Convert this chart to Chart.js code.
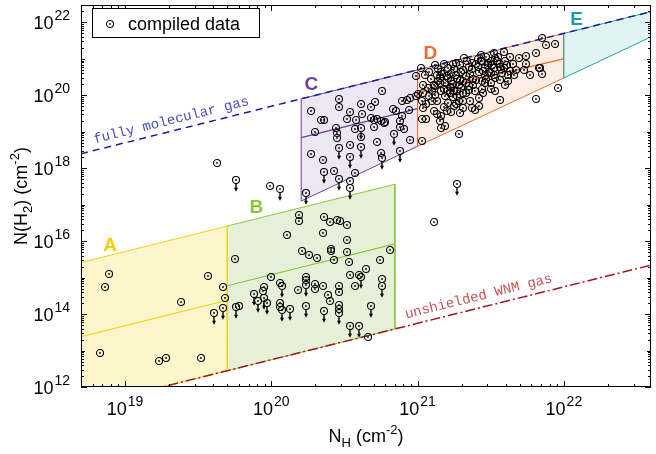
<!DOCTYPE html>
<html><head><meta charset="utf-8">
<script src="https://cdn.jsdelivr.net/npm/chart.js@4.4.1/dist/chart.umd.min.js"></script>
<style>html,body{margin:0;padding:0;background:#fff;overflow:hidden}canvas{display:block}</style>
</head><body>
<canvas id="c" width="656" height="454"></canvas>
<script>
// ---- data (log10 values) ----
const detLogNH = [18.83,18.86,18.89,19.23,19.28,19.52,19.38,19.57,19.67,19.68,19.63,19.99,19.75,19.78,19.94,19.95,20.00,20.06,20.06,20.06,20.18,20.11,20.19,20.19,20.21,20.26,20.31,20.24,20.24,20.30,20.35,20.35,20.36,20.40,20.45,20.47,20.52,20.52,20.41,20.41,20.43,20.52,20.53,20.81,20.74,20.65,20.54,20.60,20.57,20.76,20.30,20.46,20.46,20.39,20.40,20.46,20.46,20.66,21.11,
20.27,20.34,20.36,20.30,20.27,20.35,20.43,20.46,20.46,20.61,20.68,20.54,20.52,20.62,20.76,20.68,20.71,20.72,20.75,20.78,20.70,20.83,20.85,20.89,20.93,20.95,20.99,20.89,20.88,20.94,20.44,20.45,20.45,20.57,20.61,20.70,20.77,20.88,20.95,20.75,20.57,20.54,20.72,20.54,20.91,20.58,
21.02,21.12,21.24,21.34,21.43,21.52,21.59,21.63,21.69,21.74,21.81,21.85,21.88,21.94,21.84,21.85,21.67,21.62,21.56,21.62,21.50,21.44,21.60,21.56,21.81,21.96,21.40,21.38,21.35,21.31,21.42,21.36,21.31,21.31,21.29,21.23,21.18,21.16,21.15,21.16,21.21,21.26,21.10,21.06,21.04,21.03,21.04,21.00,21.04,21.07,21.11,21.14,21.10,21.03,21.06,21.03,21.28,21.12,20.99,21.77,21.83,21.73,21.32,21.25,21.37,21.39,21.19,
21.16,21.20,21.23,21.27,21.19,21.22,21.25,21.28,21.30,21.33,21.16,21.19,21.24,21.27,21.31,21.13,21.09,21.21,21.29,21.37,21.40,21.44,21.47,21.50,21.53,21.56,21.46,21.49,21.52,21.57,21.42,21.46,21.52,21.55,21.60,21.65,21.33,21.39,21.46,21.50,21.08,21.11,21.20,21.05,21.74,21.42,21.13,
21.18,21.25,21.35,21.15,21.23,21.30,21.20,21.13,21.28,21.45,21.53,21.48,21.59,21.66,21.08,
21.14,21.17,21.21,21.24,21.26,21.29,21.31,21.18,21.22,21.27,21.15,21.12,21.33,21.36,21.38,21.26,21.23,21.35,
21.41,21.43,21.45,21.48,21.51,21.54,21.56,21.58,21.50,21.47,21.53,21.44,21.61,21.63,21.41,21.37];
const detLogNH2 = [12.94,14.74,15.11,12.70,12.80,12.80,14.34,15.04,14.74,14.45,18.14,17.52,15.51,14.22,14.63,14.73,15.03,14.85,14.31,14.20,14.67,16.18,16.72,16.56,15.74,15.61,15.54,15.03,14.94,14.82,14.77,16.23,16.65,16.52,16.58,16.54,16.43,16.04,15.79,15.72,15.49,15.69,15.44,15.77,15.47,15.24,15.08,15.08,14.77,14.97,14.68,14.78,14.61,14.53,14.35,14.24,14.15,13.38,16.52,
19.56,19.31,19.31,18.99,18.38,18.23,17.92,19.91,19.69,19.77,19.68,19.54,19.34,19.50,20.13,19.37,19.82,19.34,19.30,19.26,19.32,19.63,19.56,19.84,19.88,19.93,19.99,19.43,19.29,19.61,19.09,18.98,18.84,19.08,18.85,19.13,19.23,19.13,18.77,18.42,17.88,17.65,18.71,18.65,19.07,19.31,
20.74,20.84,20.85,20.95,21.11,21.16,21.18,21.06,21.02,20.87,21.17,21.57,21.38,21.42,20.76,20.58,20.70,20.55,20.41,20.40,20.16,20.16,20.29,19.86,19.89,20.20,20.43,20.29,20.25,20.06,19.93,19.84,19.84,19.64,19.52,19.54,19.67,19.43,19.29,19.11,19.79,19.75,19.84,19.75,19.64,19.84,20.29,20.04,20.06,20.20,20.29,20.38,20.11,19.34,19.34,18.76,18.94,20.02,20.52,20.56,20.74,20.70,21.01,19.70,19.65,19.59,19.15,
20.65,20.52,20.60,20.44,20.33,20.22,20.11,20.27,20.65,20.52,20.11,19.97,19.95,19.97,20.38,20.55,20.44,20.76,20.82,20.71,20.87,20.93,21.04,20.93,21.01,20.87,20.76,20.65,20.74,20.71,20.63,20.52,20.55,21.04,20.93,20.85,20.05,20.11,20.33,20.33,19.97,19.56,19.56,20.55,21.08,19.70,19.50,
20.87,20.71,20.79,20.33,20.38,20.19,20.11,19.84,19.84,20.05,20.11,20.82,20.76,20.55,20.65,
20.72,20.58,20.47,20.30,20.55,20.42,20.70,20.18,20.05,20.12,20.47,20.25,20.35,20.58,20.45,20.90,20.20,20.15,
20.78,20.95,20.68,20.90,20.83,20.95,20.78,20.62,20.60,20.45,20.48,20.40,20.82,20.68,21.00,20.88];
// upper limits (drawn with a downward arrow)
const ulLogNH  = [19.61,19.67,19.76,20.06,19.76,19.88,19.91,19.95,19.97,20.07,20.07,20.13,20.24,20.24,20.36,20.61,20.76,20.46,20.68,20.54,20.60,21.27,20.24,20.36,20.46,20.46,20.61,20.61,20.84,20.54,20.76,20.88,20.54];
const ulLogNH2 = [14.02,14.17,17.67,17.42,14.20,14.56,14.36,14.45,14.31,14.76,14.11,14.15,14.79,14.23,14.09,15.01,14.78,14.02,14.22,13.67,13.67,17.56,17.31,17.90,17.70,18.55,19.11,18.59,18.95,18.32,18.28,18.46,17.47];

// reference lines (endpoints at the axis limits)
const fullyMolNH  = [5e18, 3.94e22];
const fullyMolNH2 = [2.5e18, 1.97e22];
const wnmNH  = [5e18, 3.94e22];
const wnmNH2 = [2.8e11, 2.2e15];

// regions (closed polygons) and their middle lines
const regA_NH  = [5e18, 5e19, 5e19, 5e18, 5e18];
const regA_NH2 = [2.6e15, 2.6e16, 2.8e12, 2.8e11, 2.6e15];
const midA_NH  = [5e18, 5e19];
const midA_NH2 = [2.4e13, 2.4e14];
const regB_NH  = [5e19, 7e20, 7e20, 5e19, 5e19];
const regB_NH2 = [2.6e16, 3.64e17, 3.92e13, 2.8e12, 2.6e16];
const midB_NH  = [5e19, 7e20];
const midB_NH2 = [6e14, 8.4e15];
const regC_NH  = [1.6e20, 1e21, 1e21, 1.6e20, 1.6e20];
const regC_NH2 = [8e19, 5e20, 4e18, 1.26e17, 8e19];
const midC_NH  = [1.6e20, 1e21];
const midC_NH2 = [6.9e18, 4.3e19];
const regD_NH  = [1e21, 1e22, 1e22, 1e21, 1e21];
const regD_NH2 = [5e20, 5e21, 3.0e20, 4e18, 5e20];
const midD_NH  = [1e21, 1e22];
const midD_NH2 = [1.18e20, 1e21];
const regE_NH  = [1e22, 4e22, 4e22, 1e22, 1e22];
const regE_NH2 = [5e21, 2e22, 4.1e21, 3.0e20, 5e21];

const regionLetters = ['A','B','C','D','E'];
const letterNH  = [7.9e18, 7.9e19, 1.88e20, 1.22e21, 1.22e22];
const letterNH2 = [7.5e15, 8e16, 1.93e20, 1.41e21, 1.15e22];

const xTickExps = [19, 20, 21, 22];
const yTickExps = [12, 14, 16, 18, 20, 22];

// ---- styles ----
const SANS = '"Liberation Sans", Arial, Helvetica, sans-serif';
const MONO = '"Liberation Mono", "DejaVu Sans Mono", monospace';
const colA = {line:'#f7d117', fill:'#fdf5cb', text:'#ffcc00'};
const colB = {line:'#8cc63f', fill:'#e4f1d8', text:'#8cc63f'};
const colC = {line:'#6d3f9e', fill:'#ece7f2', text:'#6b3fa0'};
const colD = {line:'#f26b2b', fill:'#fdeee5', text:'#f26b2b'};
const colE = {line:'#22a2a2', fill:'#e2f3f3', text:'#1a9e9e'};
const letterColors = [colA.text, colB.text, colC.text, colD.text, colE.text];

function makeMarker(arrow){
  const r = 3.5, W = 12, H = arrow ? 30 : 12;
  const c = document.createElement('canvas'); c.width = W; c.height = H;
  const g = c.getContext('2d');
  const cx = W/2, cy = H/2;
  g.strokeStyle = '#000'; g.lineWidth = 1.1;
  g.beginPath(); g.arc(cx, cy, r, 0, 2*Math.PI); g.stroke();
  g.fillStyle = '#000';
  g.beginPath(); g.arc(cx, cy, 0.9, 0, 2*Math.PI); g.fill();
  if (arrow) {
    g.lineWidth = 1.4;
    g.beginPath(); g.moveTo(cx, cy + r); g.lineTo(cx, cy + 8.5); g.stroke();
    g.beginPath(); g.moveTo(cx - 2, cy + 7.8); g.lineTo(cx + 2, cy + 7.8); g.lineTo(cx, cy + 11.8); g.closePath(); g.fill();
  }
  return c;
}
const markDet = makeMarker(false);
const markUL = makeMarker(true);

const pts = (xs, ys) => xs.map((v, i) => ({x: v, y: ys[i]}));
const logPts = (xs, ys) => xs.map((v, i) => ({x: Math.pow(10, v), y: Math.pow(10, ys[i])}));

function region(xs, ys, col, order){
  return {data: pts(xs, ys), showLine: true, fill: 'shape', backgroundColor: col.fill,
    borderColor: col.line, borderWidth: 1, pointRadius: 0, order: order};
}
function seg(xs, ys, color, width, dash, order){
  return {data: pts(xs, ys), showLine: true, fill: false, borderColor: color, borderWidth: width,
    borderDash: dash, pointRadius: 0, order: order};
}

const datasets = [
  {data: logPts(detLogNH, detLogNH2), pointStyle: markDet, pointRadius: 4, showLine: false, order: 0},
  {data: logPts(ulLogNH, ulLogNH2), pointStyle: markUL, pointRadius: 4, showLine: false, order: 1},
  seg(fullyMolNH, fullyMolNH2, '#1c1ca0', 1.5, [7,5], 2),
  seg(wnmNH, wnmNH2, '#a3141c', 1.5, [10,3,2,3], 2),
  seg(midA_NH, midA_NH2, colA.line, 1.2, [], 3),
  seg(midB_NH, midB_NH2, colB.line, 1.2, [], 3),
  seg(midC_NH, midC_NH2, colC.line, 1.2, [], 3),
  seg(midD_NH, midD_NH2, colD.line, 1.2, [], 3),
  region(regE_NH, regE_NH2, colE, 4),
  region(regD_NH, regD_NH2, colD, 5),
  region(regC_NH, regC_NH2, colC, 6),
  region(regA_NH, regA_NH2, colA, 7),
  region(regB_NH, regB_NH2, colB, 8)
];

function supText(ctx, base, exp, x, baseline, align, bigSize, smallSize){
  ctx.font = bigSize + 'px ' + SANS;
  const wb = ctx.measureText(base).width;
  ctx.font = smallSize + 'px ' + SANS;
  const we = ctx.measureText(exp).width;
  const total = wb + we + 1;
  const x0 = align === 'center' ? x - total/2 : x - total;
  ctx.textAlign = 'left'; ctx.textBaseline = 'alphabetic';
  ctx.font = bigSize + 'px ' + SANS; ctx.fillText(base, x0, baseline);
  ctx.font = smallSize + 'px ' + SANS; ctx.fillText(exp, x0 + wb + 1, baseline - 9);
}
// draws a run of [text, mode] pieces; mode: 0 normal, 1 subscript, 2 superscript
function richText(ctx, parts, x, y, centered){
  const widths = parts.map(([t, m]) => { ctx.font = (m ? 13 : 18) + 'px ' + SANS; return ctx.measureText(t).width; });
  const total = widths.reduce((a, b) => a + b, 0);
  let cx = centered ? x - total/2 : x;
  ctx.textAlign = 'left'; ctx.textBaseline = 'alphabetic';
  parts.forEach(([t, m], i) => {
    ctx.font = (m ? 13 : 18) + 'px ' + SANS;
    ctx.fillText(t, cx, y + (m === 1 ? 5 : m === 2 ? -8 : 0));
    cx += widths[i];
  });
}

const deco = {
  id: 'deco',
  beforeDatasetsDraw(chart){ chart.ctx.imageSmoothingEnabled = false; },
  afterDatasetsDraw(chart){
    const {ctx, chartArea: a, scales: {x, y}} = chart;
    ctx.imageSmoothingEnabled = true;
    ctx.save();
    // labels along the reference lines
    const lineLabel = (xs, ys, ax, ay, text, color) => {
      const x1 = x.getPixelForValue(xs[0]), y1 = y.getPixelForValue(ys[0]);
      const x2 = x.getPixelForValue(xs[1]), y2 = y.getPixelForValue(ys[1]);
      const ang = Math.atan2(y2 - y1, x2 - x1);
      ctx.save();
      ctx.translate(x.getPixelForValue(ax), y.getPixelForValue(ay));
      ctx.rotate(ang);
      ctx.font = '14px ' + MONO; ctx.fillStyle = color;
      ctx.textAlign = 'left'; ctx.textBaseline = 'alphabetic';
      ctx.fillText(text, 0, 0);
      ctx.restore();
    };
    lineLabel(fullyMolNH, fullyMolNH2, 6.2e18, 4.8e18, 'fully molecular gas', '#4b4bc4');
    lineLabel(wnmNH, wnmNH2, 8.35e20, 7.6e13, 'unshielded WNM gas', '#c2545a');

    // region letters
    ctx.font = 'bold 19px ' + SANS; ctx.textAlign = 'center'; ctx.textBaseline = 'middle';
    regionLetters.forEach((t, i) => {
      ctx.fillStyle = letterColors[i];
      ctx.fillText(t, x.getPixelForValue(letterNH[i]), y.getPixelForValue(letterNH2[i]));
    });

    // axes box
    ctx.strokeStyle = '#000'; ctx.lineWidth = 1;
    ctx.strokeRect(a.left + 0.5, a.top + 0.5, a.right - a.left - 1, a.bottom - a.top - 1);

    // ticks
    ctx.beginPath();
    for (let d = 18; d <= 22; d++) for (let m = 1; m <= 9; m++) {
      const v = m * Math.pow(10, d);
      if (v < x.min || v > x.max) continue;
      const px = Math.round(x.getPixelForValue(v)) + 0.5;
      const len = m === 1 ? 6 : 3;
      ctx.moveTo(px, a.bottom); ctx.lineTo(px, a.bottom - len);
      ctx.moveTo(px, a.top); ctx.lineTo(px, a.top + len);
    }
    for (let d = 12; d <= 22; d++) for (let m = 1; m <= 9; m++) {
      const v = m * Math.pow(10, d);
      if (v < y.min || v > y.max) continue;
      const py = Math.round(y.getPixelForValue(v)) + 0.5;
      const len = m === 1 ? (d % 2 === 0 ? 6 : 4) : 3;
      ctx.moveTo(a.left, py); ctx.lineTo(a.left + len, py);
      ctx.moveTo(a.right, py); ctx.lineTo(a.right - len, py);
    }
    ctx.stroke();

    // tick labels
    ctx.fillStyle = '#000';
    xTickExps.forEach(e => supText(ctx, '10', String(e), x.getPixelForValue(Math.pow(10, e)), 415, 'center', 18, 14));
    yTickExps.forEach(e => supText(ctx, '10', String(e), 70, y.getPixelForValue(Math.pow(10, e)) + 7, 'right', 18, 14));

    // axis titles
    richText(ctx, [['N', 0], ['H', 1], [' (cm', 0], ['-2', 2], [')', 0]], (a.left + a.right)/2, 441.5, true);
    ctx.save();
    ctx.translate(26.5, (a.top + a.bottom)/2);
    ctx.rotate(-Math.PI/2);
    richText(ctx, [['N(H', 0], ['2', 1], [') (cm', 0], ['-2', 2], [')', 0]], 0, 0, true);
    ctx.restore();

    // legend
    ctx.fillStyle = '#fff'; ctx.fillRect(92.5, 8.5, 167, 29);
    ctx.strokeStyle = '#000'; ctx.lineWidth = 1; ctx.strokeRect(92.5, 8.5, 167, 29);
    ctx.drawImage(markDet, 110 - markDet.width/2, 24 - markDet.height/2);
    ctx.fillStyle = '#000'; ctx.font = '18px ' + SANS; ctx.textAlign = 'left'; ctx.textBaseline = 'alphabetic';
    ctx.fillText('compiled data', 128, 29.5);
    ctx.restore();
  }
};

new Chart(document.getElementById('c'), {
  type: 'scatter',
  data: {datasets},
  options: {
    responsive: false, animation: false, devicePixelRatio: 1, events: [],
    layout: {padding: {top: 3, right: 0, bottom: 0, left: 0}},
    plugins: {legend: {display: false}, tooltip: {enabled: false}},
    elements: {line: {tension: 0}},
    scales: {
      x: {type: 'logarithmic', position: 'bottom', min: 5e18, max: 3.94e22, bounds: 'data',
          ticks: {display: false}, grid: {display: false}, border: {display: false},
          afterFit: s => { s.height = 67; }},
      y: {type: 'logarithmic', position: 'left', min: 1e12, max: 3e22, bounds: 'data',
          ticks: {display: false}, grid: {display: false}, border: {display: false},
          afterFit: s => { s.width = 81; }}
    }
  },
  plugins: [deco]
});
</script></body></html>
